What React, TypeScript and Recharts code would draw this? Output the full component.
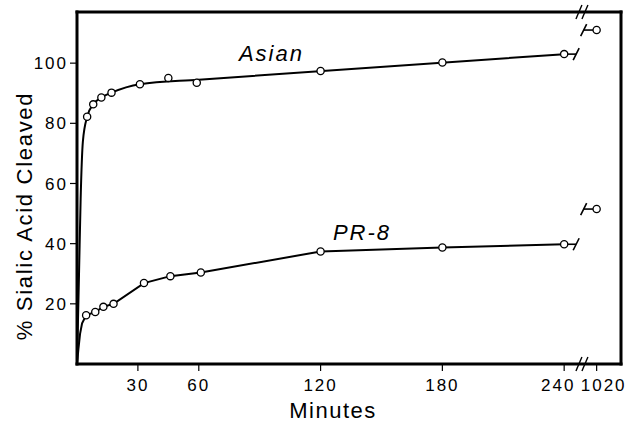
import React from 'react';
import { ComposedChart, Line, Scatter, XAxis, YAxis, ReferenceDot } from 'recharts';

const FONT = "'Liberation Sans', Arial, Helvetica, sans-serif";

// Observed points (minutes, % sialic acid cleaved)
const asianMinutes = [5, 8, 12, 17, 31, 45, 59, 120, 180, 240, 1020];
const asianPercent = [82.2, 86.3, 88.6, 90.2, 93.0, 95.1, 93.5, 97.4, 100.2, 103.0, 111.0];
const pr8Minutes = [4.5, 9, 13, 18, 33, 46, 61, 120, 180, 240, 1020];
const pr8Percent = [16.2, 17.3, 19.0, 20.0, 26.9, 29.2, 30.4, 37.4, 38.7, 39.8, 51.5];

// Hand-drawn curves through the points
const asianCurveMinutes = [0, 1, 1.8, 2.9, 5, 8, 12, 17, 31, 60, 240];
const asianCurvePercent = [0, 30, 55, 74, 82.2, 86.3, 88.6, 90.2, 93.0, 94.5, 103.0];
const pr8CurveMinutes = [0, 0.7, 1.5, 2.5, 4.5, 9, 13, 18, 33, 46, 61, 120, 180, 240];
const pr8CurvePercent = [0, 5, 10, 13.5, 16.2, 17.3, 19.0, 20.0, 26.9, 29.2, 30.4, 37.4, 38.7, 39.8];

const xTickMinutes = [30, 60, 120, 180, 240, 1020];
const xTickLabels = ['30', '60', '120', '180', '240', '1020'];
const yTicks = [20, 40, 60, 80, 100];
const seriesNames = ['Asian', 'PR-8'];
const xAxisTitle = 'Minutes';
const yAxisTitle = '% Sialic Acid Cleaved';

// broken-axis layout
const BREAK_AFTER = 240;
const BREAK_POS = 256;
const AXIS_BREAK_POS = 249;
const X_MAX = 268;
const Y_MAX = 117;

const toAxis = (m: number) => (m > BREAK_AFTER ? BREAK_POS : m);
const toPoints = (ms: number[], vs: number[]) => ms.map((m, i) => ({ t: toAxis(m), v: vs[i] }));

const asianPoints = toPoints(asianMinutes, asianPercent);
const pr8Points = toPoints(pr8Minutes, pr8Percent);
const asianCurve = toPoints(asianCurveMinutes, asianCurvePercent);
const pr8Curve = toPoints(pr8CurveMinutes, pr8CurvePercent);
const xTickPos = xTickMinutes.map(toAxis);

const xTickNudge: Record<string, number> = { '240': -6, '1020': 7 };

const XTick = (props: any) => {
  const { x, y, payload } = props;
  const idx = xTickPos.indexOf(payload.value);
  const label = idx >= 0 ? xTickLabels[idx] : String(payload.value);
  return (
    <text x={x + (xTickNudge[label] || 0)} y={y} dy="0.71em" textAnchor="middle" fontSize={17} fontFamily={FONT} letterSpacing={2} fill="#000">
      {label}
    </text>
  );
};

const YTick = (props: any) => {
  const { x, y, payload } = props;
  return (
    <text x={x} y={y} dy="0.36em" textAnchor="end" fontSize={17} fontFamily={FONT} letterSpacing={2} fill="#000">
      {String(payload.value)}
    </text>
  );
};

const OpenCircle = (p: any) => (
  <circle cx={p.cx} cy={p.cy} r={3.6} fill="#fff" stroke="#000" strokeWidth={1.3} />
);

const TailOut = (p: any) => (
  <g stroke="#000" strokeWidth={1.6} fill="none">
    <line x1={p.cx + 3.6} y1={p.cy} x2={p.cx + 12} y2={p.cy} />
    <line x1={p.cx + 9} y1={p.cy + 6} x2={p.cx + 15} y2={p.cy - 6} />
  </g>
);

const TailIn = (p: any) => (
  <g stroke="#000" strokeWidth={1.6} fill="none">
    <line x1={p.cx - 13} y1={p.cy} x2={p.cx - 3.6} y2={p.cy} />
    <line x1={p.cx - 16} y1={p.cy + 6} x2={p.cx - 10} y2={p.cy - 6} />
  </g>
);

const AxisBreak = (p: any) => (
  <g stroke="#000" strokeWidth={1.4} fill="none">
    <line x1={p.cx - 6.5} y1={p.cy + 7} x2={p.cx - 0.5} y2={p.cy - 7} />
    <line x1={p.cx - 0.5} y1={p.cy + 7} x2={p.cx + 5.5} y2={p.cy - 7} />
  </g>
);

const SeriesLabel = (text: string) => (p: any) => (
  <text x={p.cx} y={p.cy} textAnchor="middle" dominantBaseline="central" fontSize={22} fontStyle="italic" fontFamily={FONT} letterSpacing={2} fill="#000">
    {text}
  </text>
);

const lastBefore = (ms: number[], vs: number[]) => {
  const i = ms.filter((m) => m <= BREAK_AFTER).length - 1;
  return { t: ms[i], v: vs[i] };
};
const lastAfter = (ms: number[], vs: number[]) => ({ t: toAxis(ms[ms.length - 1]), v: vs[vs.length - 1] });

const axisLineStyle = { stroke: '#000', strokeWidth: 3, strokeLinecap: 'square' as const };
const tickLineStyle = { stroke: '#000', strokeWidth: 1.2 };

export default function App() {
  const aOut = lastBefore(asianMinutes, asianPercent);
  const pOut = lastBefore(pr8Minutes, pr8Percent);
  const aIn = lastAfter(asianMinutes, asianPercent);
  const pIn = lastAfter(pr8Minutes, pr8Percent);
  return (
    <div style={{ position: 'absolute', left: 0, top: 0, width: 626, height: 425, background: '#fff' }}>
      <ComposedChart width={626} height={425} margin={{ top: 12, right: 5, bottom: 0, left: 0 }}>
        <XAxis
          xAxisId={0}
          type="number"
          dataKey="t"
          domain={[0, X_MAX]}
          ticks={xTickPos}
          interval={0}
          allowDataOverflow
          height={61}
          tickSize={7}
          tickMargin={8}
          tick={<XTick />}
          axisLine={axisLineStyle}
          tickLine={tickLineStyle}
          label={{
            content: (lp: any) => {
              const vb = lp.viewBox || { x: 77, y: 364, width: 544, height: 61 };
              return (
                <text x={vb.x + vb.width / 2 - 16} y={vb.y + 54} textAnchor="middle" fontSize={22} fontFamily={FONT} letterSpacing={1.5} fill="#000">
                  {xAxisTitle}
                </text>
              );
            },
          }}
        />
        <XAxis
          xAxisId="top"
          orientation="top"
          mirror
          type="number"
          domain={[0, X_MAX]}
          ticks={xTickPos}
          interval={0}
          allowDataOverflow
          tick={false}
          tickSize={7}
          axisLine={axisLineStyle}
          tickLine={tickLineStyle}
        />
        <YAxis
          yAxisId={0}
          type="number"
          domain={[0, Y_MAX]}
          ticks={yTicks}
          interval={0}
          allowDataOverflow
          width={77}
          tickSize={7}
          tickMargin={2}
          tick={<YTick />}
          axisLine={axisLineStyle}
          tickLine={tickLineStyle}
          label={{
            content: (lp: any) => {
              const vb = lp.viewBox || { x: 0, y: 12, width: 77, height: 352 };
              const cx = vb.x + 24;
              const cy = vb.y + vb.height / 2 + 28;
              return (
                <text x={cx} y={cy} transform={`rotate(-90 ${cx} ${cy})`} textAnchor="middle" dominantBaseline="central" fontSize={22} fontFamily={FONT} letterSpacing={1.7} fill="#000">
                  {yAxisTitle}
                </text>
              );
            },
          }}
        />
        <YAxis
          yAxisId="right"
          orientation="right"
          mirror
          type="number"
          domain={[0, Y_MAX]}
          ticks={yTicks}
          interval={0}
          allowDataOverflow
          tick={false}
          tickSize={6}
          axisLine={axisLineStyle}
          tickLine={tickLineStyle}
        />
        <Line data={asianCurve} dataKey="v" type="monotone" stroke="#000" strokeWidth={2} dot={false} activeDot={false} isAnimationActive={false} />
        <Line data={pr8Curve} dataKey="v" type="linear" stroke="#000" strokeWidth={2} dot={false} activeDot={false} isAnimationActive={false} />
        <ReferenceDot x={aOut.t} y={aOut.v} r={0} shape={TailOut} ifOverflow="visible" />
        <ReferenceDot x={pOut.t} y={pOut.v} r={0} shape={TailOut} ifOverflow="visible" />
        <ReferenceDot x={aIn.t} y={aIn.v} r={0} shape={TailIn} ifOverflow="visible" />
        <ReferenceDot x={pIn.t} y={pIn.v} r={0} shape={TailIn} ifOverflow="visible" />
        <ReferenceDot x={AXIS_BREAK_POS} y={Y_MAX} r={0} shape={AxisBreak} ifOverflow="visible" />
        <ReferenceDot x={AXIS_BREAK_POS} y={0} r={0} shape={AxisBreak} ifOverflow="visible" />
        <ReferenceDot x={95.8} y={103.2} r={0} shape={SeriesLabel(seriesNames[0])} ifOverflow="visible" />
        <ReferenceDot x={140.4} y={43.7} r={0} shape={SeriesLabel(seriesNames[1])} ifOverflow="visible" />
        <Scatter data={asianPoints} dataKey="v" shape={OpenCircle} isAnimationActive={false} />
        <Scatter data={pr8Points} dataKey="v" shape={OpenCircle} isAnimationActive={false} />
      </ComposedChart>
    </div>
  );
}
